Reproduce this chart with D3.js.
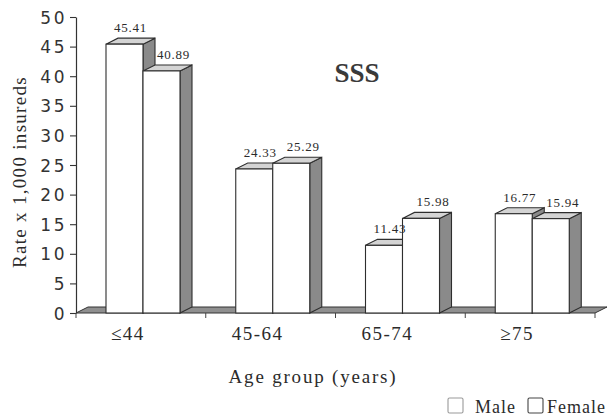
<!DOCTYPE html>
<html>
<head>
<meta charset="utf-8">
<script src="https://cdn.jsdelivr.net/npm/d3@7"></script>
<style>
  html, body { margin: 0; padding: 0; background: #fff; }
  svg { display: block; }
</style>
</head>
<body>
<svg id="chart" width="613" height="417"></svg>
<script>
// Hospitalisation rates per 1,000 insureds, by age group and sex
const categories = ["≤44", "45-64", "65-74", "≥75"];
const seriesNames = ["Male", "Female"];
const maleValues = [45.41, 24.33, 11.43, 16.77];
const femaleValues = [40.89, 25.29, 15.98, 15.94];
const yTickValues = [0, 5, 10, 15, 20, 25, 30, 35, 40, 45, 50];

const SERIF = '"Liberation Serif", "Times New Roman", Times, serif';
const SANS = '"DejaVu Sans", "Liberation Sans", sans-serif';
const INK = "#2b2b2b";

const svg = d3.select("#chart");

// depth offset used for the pseudo-3D faces
const DX = 12, DY = -6;

const x0 = d3.scaleBand().domain(categories).range([76, 595]);
const x1 = d3.scaleBand().domain(seriesNames).range([30, 104]);
const y = d3.scaleLinear().domain([0, 50]).range([313, 17]);

const seriesValues = { Male: maleValues, Female: femaleValues };

// floor
const fx0 = x0.range()[0], fx1 = x0.range()[1], fy = y(0);
svg.append("polygon")
  .attr("points", [[fx0, fy], [fx1, fy], [fx1 + DX, fy + DY], [fx0 + DX, fy + DY]].join(" "))
  .attr("fill", "#8f8f8f")
  .attr("stroke", "#333")
  .attr("stroke-width", 1);

// bars: side, top and front faces
const barStroke = "#2e2e2e";
categories.forEach((cat, i) => {
  seriesNames.forEach(s => {
    const v = seriesValues[s][i];
    const x = x0(cat) + x1(s);
    const w = x1.bandwidth();
    const yt = y(v), yb = y(0);
    const g = svg.append("g");
    g.append("polygon")
      .attr("points", [[x + w, yt], [x + w + DX, yt + DY], [x + w + DX, yb + DY], [x + w, yb]].join(" "))
      .attr("fill", "#8a8a8a").attr("stroke", barStroke).attr("stroke-width", 1.1);
    g.append("polygon")
      .attr("points", [[x, yt], [x + w, yt], [x + w + DX, yt + DY], [x + DX, yt + DY]].join(" "))
      .attr("fill", "#d4d4d4").attr("stroke", barStroke).attr("stroke-width", 1.1);
    g.append("rect")
      .attr("x", x).attr("y", yt).attr("width", w).attr("height", yb - yt)
      .attr("fill", "#fff").attr("stroke", barStroke).attr("stroke-width", 1.1);
  });
});

// value labels above each bar
categories.forEach((cat, i) => {
  seriesNames.forEach(s => {
    const v = seriesValues[s][i];
    const x = x0(cat) + x1(s) + x1.bandwidth() / 2 + DX / 2 + (s === "Female" ? 6 : 0);
    svg.append("text")
      .style("font-family", SERIF).style("fill", INK)
      .attr("x", x).attr("y", y(v) - 12)
      .attr("text-anchor", "middle")
      .attr("font-size", 13)
      .attr("letter-spacing", 0.8)
      .text(v.toFixed(2));
  });
});

// y axis
const yAxis = svg.append("g")
  .attr("transform", "translate(76,0)")
  .call(d3.axisLeft(y).tickValues(yTickValues).tickSize(6).tickSizeOuter(0).tickPadding(3));
yAxis.select(".domain").attr("stroke", "#333").attr("stroke-width", 1.2);
yAxis.selectAll(".tick line").attr("stroke", "#333").attr("stroke-width", 1.1);
yAxis.selectAll(".tick text")
  .style("font-family", SANS).style("fill", "#333")
  .attr("font-size", 17)
  .attr("letter-spacing", 2.5)
  .attr("dy", "0.36em");

// x axis: boundary ticks and category labels
const xAxis = svg.append("g").attr("transform", `translate(0,${y(0)})`);
const boundaries = categories.map(c => x0(c)).concat([x0.range()[1]]);
xAxis.selectAll("line.bt").data(boundaries).join("line")
  .attr("x1", d => d).attr("x2", d => d).attr("y1", 0).attr("y2", 5)
  .attr("stroke", "#444").attr("stroke-width", 1);
xAxis.selectAll("text.cat").data(categories).join("text")
  .style("font-family", SERIF).style("fill", INK)
  .attr("x", d => x0(d) + x0.bandwidth() / 2 - 13)
  .attr("y", 27)
  .attr("text-anchor", "middle")
  .attr("font-size", 19)
  .attr("letter-spacing", 1.5)
  .text(d => d);

// titles
svg.append("text")
  .style("font-family", SERIF).style("fill", "#3a3a3a")
  .attr("x", 357).attr("y", 82).attr("text-anchor", "middle")
  .attr("font-size", 27).attr("font-weight", "bold")
  .text("SSS");

svg.append("text")
  .style("font-family", SERIF).style("fill", INK)
  .attr("x", 313).attr("y", 383).attr("text-anchor", "middle")
  .attr("font-size", 19).attr("letter-spacing", 1.8)
  .text("Age group (years)");

svg.append("text")
  .style("font-family", SERIF).style("fill", INK)
  .attr("transform", "translate(26,172) rotate(-90)")
  .attr("text-anchor", "middle")
  .attr("font-size", 19).attr("letter-spacing", 1.3)
  .text("Rate x 1,000 insureds");

// legend
const legendItems = [
  { name: "Male", box: 448, text: 475, stroke: "#9a9a9a" },
  { name: "Female", box: 528, text: 547, stroke: "#444" }
];
const legend = svg.append("g");
legendItems.forEach(d => {
  legend.append("rect")
    .attr("x", d.box).attr("y", 398).attr("width", 15).attr("height", 15).attr("rx", 1.5)
    .attr("fill", "#fff").attr("stroke", d.stroke).attr("stroke-width", 1.1);
  legend.append("text")
    .style("font-family", SERIF).style("fill", INK)
    .attr("x", d.text).attr("y", 413)
    .attr("font-size", 18).attr("letter-spacing", 1)
    .text(d.name);
});
</script>
</body>
</html>
